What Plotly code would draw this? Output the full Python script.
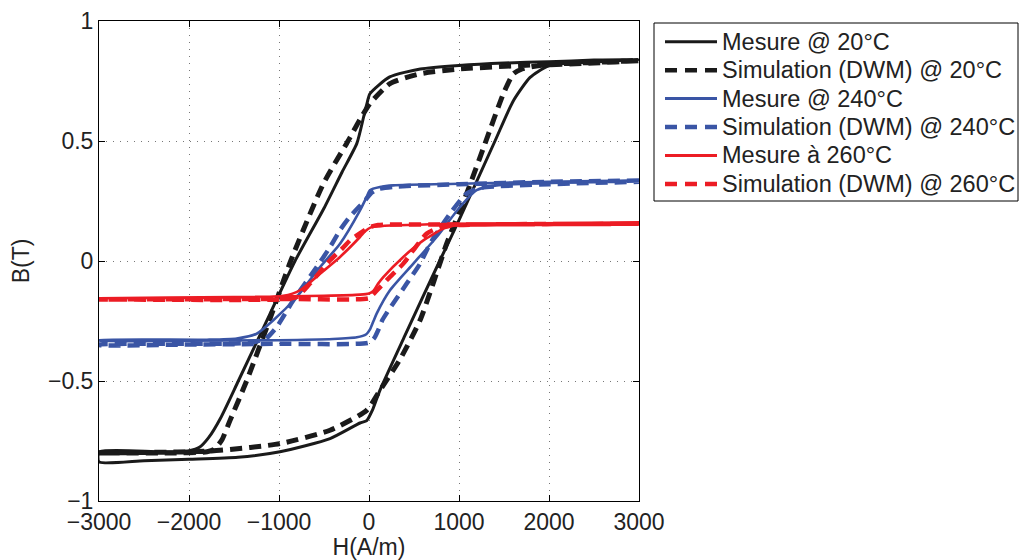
import plotly.graph_objects as go

# ---------------- data (H in A/m, B in T) ----------------
# Mesure @ 20°C  (descending branch then ascending branch)
m20_desc_H = [3000, 2500, 2000, 1500, 1000, 570, 230, 10, -20, -60, -135, -300, -500, -822, -1100, -1452, -1650, -1780, -1880, -2000, -2300, -3000]
m20_desc_B = [0.84, 0.837, 0.83, 0.825, 0.815, 0.80, 0.767, 0.697, 0.66, 0.60, 0.49, 0.37, 0.22, 0.0, -0.22, -0.5, -0.655, -0.735, -0.775, -0.79, -0.795, -0.795]
m20_asc_H = [-3000, -2500, -2000, -1456, -989, -433, -100, -25, 40, 120, 400, 785, 1000, 1400, 1600, 1790, 1975, 2160, 2500, 3000]
m20_asc_B = [-0.837, -0.832, -0.826, -0.818, -0.795, -0.74, -0.675, -0.665, -0.62, -0.54, -0.31, 0.0, 0.17, 0.5, 0.665, 0.765, 0.81, 0.823, 0.83, 0.84]

# Simulation (DWM) @ 20°C
s20_desc_H = [3000, 2000, 1000, 567, 233, 11, -100, -210, -248, -510, -870, -1100, -1360, -1544, -1637, -1720, -1800, -2200, -3000]
s20_desc_B = [0.835, 0.82, 0.80, 0.78, 0.739, 0.656, 0.59, 0.515, 0.49, 0.32, 0.0, -0.24, -0.5, -0.664, -0.747, -0.785, -0.795, -0.80, -0.80]
s20_asc_H = [-3000, -2000, -1656, -989, -433, -26, 120, 344, 567, 863, 1085, 1289, 1493, 1604, 1700, 1900, 2500, 3000]
s20_asc_B = [-0.80, -0.795, -0.789, -0.761, -0.705, -0.622, -0.54, -0.41, -0.247, 0.072, 0.281, 0.489, 0.697, 0.78, 0.80, 0.815, 0.825, 0.835]

# Mesure @ 240°C
m240_desc_H = [3000, 2000, 1000, 270, 122, 10, -26, -100, -322, -544, -804, -1063, -1248, -1470, -1800, -3000]
m240_desc_B = [0.335, 0.33, 0.322, 0.315, 0.308, 0.295, 0.267, 0.211, 0.072, -0.025, -0.15, -0.247, -0.303, -0.323, -0.328, -0.33]
m240_asc_H = [-3000, -2000, -1000, -400, -135, -30, 11, 50, 85, 233, 493, 752, 1011, 1196, 1419, 2000, 3000]
m240_asc_B = [-0.332, -0.332, -0.33, -0.325, -0.318, -0.305, -0.285, -0.25, -0.219, -0.122, -0.011, 0.10, 0.225, 0.295, 0.315, 0.325, 0.335]

# Simulation (DWM) @ 240°C
s240_desc_H = [3000, 2000, 1000, 300, 100, 30, -60, -100, -211, -320, -433, -581, -841, -1026, -1137, -1300, -2000, -3000]
s240_desc_B = [0.335, 0.33, 0.32, 0.31, 0.30, 0.285, 0.245, 0.23, 0.185, 0.13, 0.058, -0.025, -0.164, -0.275, -0.32, -0.34, -0.345, -0.348]
s240_asc_H = [-3000, -2000, -1000, 0, 60, 100, 150, 200, 419, 567, 678, 900, 1085, 1250, 2000, 3000]
s240_asc_B = [-0.35, -0.348, -0.345, -0.34, -0.32, -0.29, -0.245, -0.215, -0.094, -0.011, 0.072, 0.197, 0.281, 0.305, 0.32, 0.33]

# Mesure à 260°C
m260_desc_H = [3000, 1000, 122, 20, -40, -100, -322, -544, -767, -952, -1500, -3000]
m260_desc_B = [0.16, 0.155, 0.145, 0.14, 0.125, 0.10, 0.017, -0.053, -0.122, -0.145, -0.152, -0.155]
m260_asc_H = [-3000, -1500, -500, -100, 0, 48, 100, 159, 381, 604, 826, 974, 1500, 3000]
m260_asc_B = [-0.155, -0.15, -0.145, -0.14, -0.135, -0.125, -0.095, -0.067, 0.017, 0.086, 0.135, 0.149, 0.153, 0.158]

# Simulation (DWM) @ 260°C
s260_desc_H = [3000, 1000, 100, 0, -80, -200, -290, -433, -656, -804, -1000, -3000]
s260_desc_B = [0.155, 0.152, 0.15, 0.14, 0.12, 0.09, 0.055, 0.003, -0.094, -0.15, -0.16, -0.16]
s260_asc_H = [-3000, -1000, 0, 45, 120, 196, 381, 493, 641, 790, 1000, 3000]
s260_asc_B = [-0.16, -0.158, -0.155, -0.14, -0.11, -0.08, -0.011, 0.045, 0.114, 0.14, 0.15, 0.155]

x_ticks = [-3000, -2000, -1000, 0, 1000, 2000, 3000]
y_ticks = [-1, -0.5, 0, 0.5, 1]
y_ticklabels = ["\u22121", "\u22120.5", "0", "0.5", "1"]

names = ["Mesure @ 20°C", "Simulation (DWM) @ 20°C", "Mesure @ 240°C",
         "Simulation (DWM) @ 240°C", "Mesure à 260°C", "Simulation (DWM) @ 260°C"]

BLACK = "#1a1a1a"
BLUE = "#3a55a5"
RED = "#ec1c24"
DASH = "12px,7px"

series = [
    (m20_desc_H + m20_asc_H, m20_desc_B + m20_asc_B, BLACK, 3, "solid"),
    (s20_desc_H + s20_asc_H, s20_desc_B + s20_asc_B, BLACK, 5, DASH),
    (m240_desc_H + m240_asc_H, m240_desc_B + m240_asc_B, BLUE, 2.6, "solid"),
    (s240_desc_H + s240_asc_H, s240_desc_B + s240_asc_B, BLUE, 4.5, DASH),
    (m260_desc_H + m260_asc_H, m260_desc_B + m260_asc_B, RED, 2.6, "solid"),
    (s260_desc_H + s260_asc_H, s260_desc_B + s260_asc_B, RED, 4.5, DASH),
]

# figure geometry (pixels)
W, H = 1019, 560
L, R, T, B = 99, 380, 21, 59
PW, PH = W - L - R, H - T - B


def px_x(px):
    return (px - L) / PW


def px_y(py):
    return (H - B - py) / PH


FONT = "Liberation Sans, Arial, Helvetica, sans-serif"
TXT = "#222222"
FS = 23
FS_LEG = 23.5

fig = go.Figure()
for name, (hx, by, col, w, dash) in zip(names, series):
    fig.add_trace(go.Scatter(
        x=hx, y=by, mode="lines", name=name, showlegend=False,
        line=dict(color=col, width=w, dash=dash, shape="spline", smoothing=0.6),
    ))

# ---- legend box drawn as shapes/annotations (to match row spacing) ----
leg_left, leg_right, leg_top, leg_bot = 654, 1018, 23, 201
row0, row_step = 41.7, 28.45
shapes = [dict(type="rect", xref="paper", yref="paper",
               x0=px_x(leg_left), x1=px_x(leg_right), y0=px_y(leg_bot), y1=px_y(leg_top),
               line=dict(color="black", width=1), fillcolor="white", layer="above")]
annotations = []
for i, (name, (_, _, col, w, dash)) in enumerate(zip(names, series)):
    yc = row0 + i * row_step
    shapes.append(dict(type="line", xref="paper", yref="paper",
                       x0=px_x(665), x1=px_x(717), y0=px_y(yc), y1=px_y(yc),
                       line=dict(color=col, width=min(w, 4.5) if dash != "solid" else 3,
                                 dash=("12px,8px" if dash != "solid" else "solid")),
                       layer="above"))
    annotations.append(dict(xref="paper", yref="paper", x=px_x(720), y=px_y(yc),
                            xanchor="left", yanchor="middle", showarrow=False,
                            text=name, font=dict(family=FONT, size=FS_LEG, color=TXT)))

axis_common = dict(
    showline=True, linecolor="black", linewidth=1, mirror="ticks",
    ticks="inside", ticklen=6, tickcolor="black",
    showgrid=True, gridcolor="#777777", gridwidth=1, griddash="1px,6px",
    zeroline=False, automargin=False,
    tickfont=dict(family=FONT, size=FS, color=TXT),
)

fig.update_xaxes(
    range=[-3000, 3000], tickvals=x_ticks,
    ticktext=[("\u2212" + str(-v)) if v < 0 else str(v) for v in x_ticks],
    title=dict(text="H(A/m)", font=dict(family=FONT, size=FS, color=TXT), standoff=2),
    **axis_common,
)
fig.update_yaxes(
    range=[-1, 1], tickvals=y_ticks, ticktext=y_ticklabels,
    title=dict(text="B(T)", font=dict(family=FONT, size=FS, color=TXT), standoff=11),
    **axis_common,
)

fig.update_layout(
    width=W, height=H,
    margin=dict(l=L, r=R, t=T, b=B, autoexpand=False),
    plot_bgcolor="white", paper_bgcolor="white",
    font=dict(family=FONT, size=FS, color=TXT),
    shapes=shapes, annotations=annotations,
    showlegend=False,
)

fig.write_html(
    "out.html",
    config={"displayModeBar": False},
    post_script="document.body.style.margin='0';document.body.style.padding='0';"
                "document.body.style.overflow='hidden';",
)
